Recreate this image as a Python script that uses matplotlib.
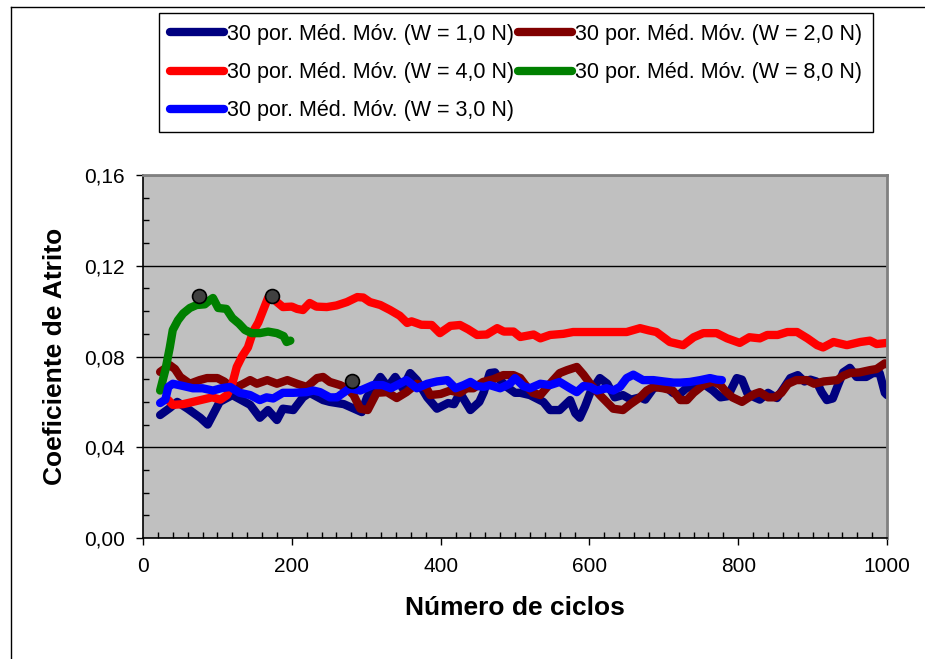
import matplotlib
matplotlib.use("Agg")
import matplotlib.pyplot as plt
from matplotlib.lines import Line2D
from matplotlib.ticker import MultipleLocator, FuncFormatter

plt.rcParams["font.family"] = ["Liberation Sans", "DejaVu Sans"]

# W = 1,0 N
w1_x = [23, 36, 46, 60, 77, 87, 103, 120, 144, 157, 168, 180, 188, 202, 215, 224, 242,
        251, 270, 294, 301, 319, 329, 339, 349, 359, 368, 382, 395, 410, 418, 426, 440,
        452, 458, 466, 473, 480, 489, 500, 507, 520, 538, 547, 560, 574, 581, 587, 594,
        601, 614, 624, 634, 645, 656, 668, 675, 686, 700, 712, 720, 730, 740, 753, 766,
        776, 786, 798, 805, 812, 822, 829, 840, 852, 861, 870, 880, 889, 897, 905, 912,
        919, 927, 934, 941, 950, 959, 972, 981, 990, 997, 1000]
w1_y = [0.0542, 0.0573, 0.060, 0.057, 0.053, 0.050, 0.060, 0.063, 0.0587, 0.053, 0.0564,
        0.052, 0.057, 0.0564, 0.062, 0.064, 0.0608, 0.060, 0.059, 0.0555, 0.062, 0.071,
        0.0666, 0.071, 0.066, 0.0727, 0.0696, 0.062, 0.057, 0.0595, 0.059, 0.064, 0.0564,
        0.060, 0.0643, 0.0727, 0.073, 0.0696, 0.0666, 0.064, 0.064, 0.063, 0.060, 0.0564,
        0.0564, 0.0608, 0.055, 0.053, 0.058, 0.064, 0.0705, 0.068, 0.062, 0.063, 0.061,
        0.062, 0.061, 0.066, 0.0675, 0.064, 0.063, 0.066, 0.067, 0.068, 0.065, 0.062,
        0.0625, 0.0705, 0.0698, 0.064, 0.062, 0.061, 0.064, 0.0617, 0.066, 0.0705, 0.0718,
        0.069, 0.0698, 0.069, 0.0643, 0.0608, 0.0615, 0.0674, 0.073, 0.075, 0.071, 0.071,
        0.0727, 0.0727, 0.064, 0.063]

# W = 2,0 N
w2_x = [23, 36, 43, 50, 63, 76, 86, 100, 109, 115, 126, 135, 144, 153, 167, 180, 194, 207,
        220, 234, 242, 251, 265, 274, 283, 292, 302, 314, 328, 341, 354, 368, 381, 386,
        400, 413, 426, 435, 444, 457, 471, 484, 498, 507, 515, 524, 534, 547, 560, 570,
        583, 592, 601, 614, 623, 632, 645, 655, 668, 677, 686, 699, 712, 722, 731, 740,
        753, 766, 776, 782, 792, 805, 812, 822, 829, 840, 849, 858, 867, 878, 892, 902,
        915, 933, 941, 950, 963, 977, 986, 997, 1000]
w2_y = [0.0732, 0.0762, 0.0745, 0.071, 0.068, 0.0696, 0.0705, 0.0705, 0.069, 0.0675,
        0.0666, 0.068, 0.0696, 0.068, 0.0696, 0.068, 0.0696, 0.068, 0.0666, 0.0705, 0.071,
        0.0688, 0.0674, 0.066, 0.063, 0.057, 0.0564, 0.064, 0.0643, 0.0617, 0.0643, 0.068,
        0.066, 0.063, 0.0635, 0.065, 0.064, 0.066, 0.066, 0.0688, 0.070, 0.0718, 0.0718,
        0.0705, 0.067, 0.064, 0.063, 0.068, 0.0727, 0.074, 0.0754, 0.072, 0.068, 0.063,
        0.060, 0.057, 0.0564, 0.059, 0.062, 0.065, 0.0666, 0.066, 0.065, 0.0608, 0.0608,
        0.064, 0.0674, 0.069, 0.0674, 0.065, 0.062, 0.060, 0.0615, 0.0635, 0.0643, 0.062,
        0.062, 0.064, 0.068, 0.0696, 0.0696, 0.068, 0.069, 0.0696, 0.0715, 0.0727, 0.073,
        0.074, 0.0745, 0.077, 0.0765]

# W = 4,0 N
w4_x = [34, 40, 54, 67, 80, 93, 104, 113, 120, 126, 133, 141, 148, 155, 161, 168, 173,
        180, 188, 200, 207, 215, 224, 233, 247, 260, 274, 288, 296, 305, 319, 332, 345,
        355, 361, 374, 388, 399, 413, 426, 437, 449, 462, 476, 485, 498, 507, 525, 534,
        547, 565, 578, 605, 632, 650, 668, 680, 690, 708, 726, 740, 753, 771, 785, 802,
        815, 829, 839, 853, 866, 879, 893, 906, 914, 928, 946, 964, 977, 986, 1000]
w4_y = [0.0608, 0.0587, 0.059, 0.060, 0.061, 0.062, 0.061, 0.063, 0.068, 0.0754, 0.080,
        0.084, 0.091, 0.095, 0.100, 0.1058, 0.1066, 0.104, 0.1018, 0.102, 0.101, 0.1005,
        0.1036, 0.102, 0.1018, 0.1025, 0.104, 0.1062, 0.106, 0.104, 0.1027, 0.1005, 0.098,
        0.0948, 0.0955, 0.094, 0.0939, 0.0903, 0.0935, 0.0939, 0.092, 0.0895, 0.0897,
        0.0925, 0.091, 0.091, 0.0886, 0.0897, 0.088, 0.0895, 0.090, 0.0908, 0.0908, 0.0908,
        0.0908, 0.0925, 0.0915, 0.0908, 0.0864, 0.085, 0.0885, 0.0903, 0.0903, 0.088,
        0.086, 0.0885, 0.088, 0.0895, 0.0895, 0.0908, 0.0908, 0.088, 0.085, 0.084, 0.0864,
        0.085, 0.0864, 0.087, 0.0855, 0.086]

# W = 8,0 N
w8_x = [23, 30, 36, 40, 47, 54, 63, 72, 83, 90, 94, 101, 112, 120, 129, 137, 146, 157,
        168, 180, 189, 193, 198]
w8_y = [0.065, 0.074, 0.084, 0.0917, 0.096, 0.099, 0.1014, 0.1027, 0.103, 0.1049, 0.1058,
        0.1014, 0.101, 0.097, 0.0945, 0.0917, 0.0903, 0.0903, 0.091, 0.0903, 0.089, 0.0864,
        0.087]

# W = 3,0 N
w3_x = [23, 30, 34, 40, 54, 67, 80, 94, 105, 117, 130, 144, 157, 166, 175, 188, 202, 220,
        229, 238, 251, 261, 265, 278, 292, 309, 322, 333, 345, 354, 368, 382, 395, 409,
        420, 431, 440, 449, 458, 466, 480, 493, 500, 511, 520, 534, 547, 560, 574, 583,
        592, 601, 610, 623, 632, 641, 650, 659, 672, 686, 700, 713, 722, 735, 749, 762,
        771, 778]
w3_y = [0.0595, 0.061, 0.0666, 0.068, 0.067, 0.066, 0.066, 0.065, 0.066, 0.0666, 0.064,
        0.063, 0.0608, 0.062, 0.0615, 0.064, 0.064, 0.0643, 0.065, 0.0643, 0.062, 0.062,
        0.063, 0.066, 0.065, 0.0674, 0.0674, 0.066, 0.068, 0.0696, 0.066, 0.068, 0.069,
        0.0696, 0.066, 0.0674, 0.0688, 0.067, 0.0666, 0.0674, 0.066, 0.068, 0.0705, 0.067,
        0.066, 0.068, 0.0674, 0.0688, 0.066, 0.0643, 0.067, 0.0666, 0.065, 0.066, 0.065,
        0.0666, 0.0705, 0.072, 0.0696, 0.0696, 0.069, 0.0685, 0.0685, 0.0688, 0.0696,
        0.0705, 0.0698, 0.0696]

# highlighted points
pts_x = [75, 173, 281]
pts_y = [0.1066, 0.1066, 0.069]

label = "30 por. Méd. Móv. (W = {} N)"

fig = plt.figure(figsize=(9.25, 6.59), dpi=100)
ax = fig.add_axes([0.1546, 0.1836, 0.8044, 0.5508])
ax.set_facecolor("#C0C0C0")

lw = 6
h1, = ax.plot(w1_x, w1_y, color="#000080", lw=lw, solid_capstyle="round", label=label.format("1,0"))
h2, = ax.plot(w2_x, w2_y, color="#800000", lw=lw, solid_capstyle="round", label=label.format("2,0"))
h4, = ax.plot(w4_x, w4_y, color="#FF0000", lw=lw, solid_capstyle="round", label=label.format("4,0"))
h8, = ax.plot(w8_x, w8_y, color="#008000", lw=lw, solid_capstyle="round", label=label.format("8,0"))
h3, = ax.plot(w3_x, w3_y, color="#0000FF", lw=lw, solid_capstyle="round", label=label.format("3,0"))
ax.plot(pts_x, pts_y, ls="none", marker="o", ms=10, mfc="#404040", mec="black", mew=1.2, zorder=5)

ax.set_xlim(0, 1000)
ax.set_ylim(0, 0.16)
ax.xaxis.set_major_locator(MultipleLocator(200))
ax.xaxis.set_minor_locator(MultipleLocator(20))
ax.yaxis.set_major_locator(MultipleLocator(0.04))
ax.yaxis.set_minor_locator(MultipleLocator(0.01))
ax.yaxis.set_major_formatter(FuncFormatter(lambda v, p: f"{v:.2f}".replace(".", ",")))
ax.grid(axis="y", which="major", color="black", lw=1)
ax.set_axisbelow(True)

ax.tick_params(which="major", direction="out", length=5, width=1, labelsize=15, color="black")
ax.tick_params(axis="y", which="major", pad=8)
ax.tick_params(axis="x", which="major", pad=9)
ax.tick_params(which="minor", direction="in", length=4, width=1, color="black")

for side in ["left", "bottom"]:
    ax.spines[side].set_color("black")
    ax.spines[side].set_linewidth(1.2)
for side in ["top", "right"]:
    ax.spines[side].set_color("#808080")
    ax.spines[side].set_linewidth(2)

ax.set_xlabel("Número de ciclos", fontsize=19, fontweight="bold", labelpad=14)
ax.set_ylabel("Coeficiente de Atrito", fontsize=19, fontweight="bold", labelpad=12)

hs = [h1, h4, h3, h2, h8]
leg = fig.legend(hs, [h.get_label() for h in hs],
                 ncol=2, loc="upper left", bbox_to_anchor=(0.172, 0.980),
                 fontsize=15.5, handlelength=2.5, handletextpad=0.15, columnspacing=0.2,
                 labelspacing=0.8, borderpad=0.5, borderaxespad=0, fancybox=False,
                 framealpha=1, edgecolor="black")
leg.get_frame().set_linewidth(1)

# outer chart border (left and top edges visible)
fig.add_artist(Line2D([11 / 925, 11 / 925], [0, 1 - 7 / 659], color="black", lw=1))
fig.add_artist(Line2D([11 / 925, 1], [1 - 7 / 659, 1 - 7 / 659], color="black", lw=1))

fig.savefig("out.png", dpi=100)
